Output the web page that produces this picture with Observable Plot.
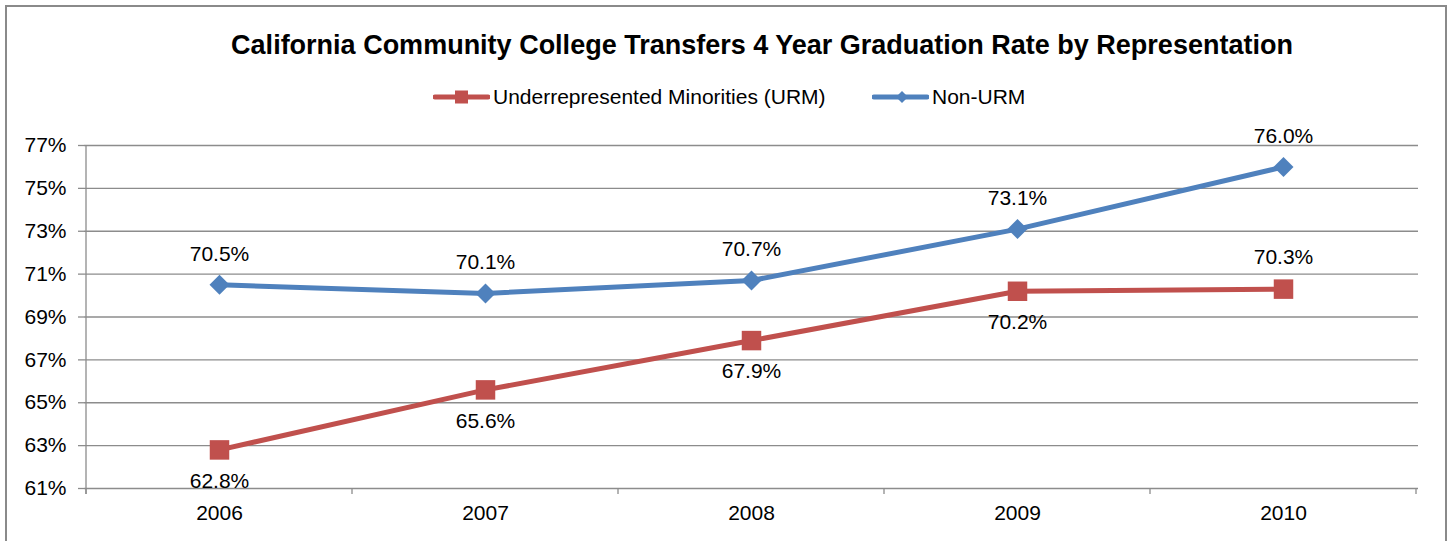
<!DOCTYPE html>
<html>
<head>
<meta charset="utf-8">
<script src="https://cdn.jsdelivr.net/npm/d3@7"></script>
<script src="https://cdn.jsdelivr.net/npm/@observablehq/plot@0.6"></script>
<style>
  html, body { margin: 0; padding: 0; background: #fff; }
  body { width: 1452px; height: 541px; overflow: hidden; position: relative; font-family: "Liberation Sans", Arial, sans-serif; }
  #frame { position: absolute; left: 5px; top: 5px; width: 1438px; height: 600px; border: 2px solid #8a8a8a; }
  #title { position: absolute; left: 0; top: 32px; width: 1524px; text-align: center; font-weight: bold; font-size: 27px; line-height: 27px; color: #000; white-space: nowrap; }
  .leg { position: absolute; top: 85px; height: 24px; display: flex; align-items: center; font-size: 21px; color: #000; white-space: nowrap; }
  .leg svg { display: block; margin-right: 3px; }
  #chart { position: absolute; left: 0; top: 120px; }
</style>
</head>
<body>
<div id="frame"></div>
<div id="title">California Community College Transfers 4 Year Graduation Rate by Representation</div>
<div class="leg" style="left:433px">
  <svg width="57" height="24"><line x1="2" x2="55" y1="12" y2="12" stroke="#C0504D" stroke-width="5" stroke-linecap="round"/><rect x="22" y="5.5" width="13" height="13" fill="#C0504D"/></svg>
  <span>Underrepresented Minorities (URM)</span>
</div>
<div class="leg" style="left:872px">
  <svg width="57" height="24"><line x1="2" x2="55" y1="12" y2="12" stroke="#4F81BD" stroke-width="5" stroke-linecap="round"/><path d="M30,6 L36,12 L30,18 L24,12 Z" fill="#4F81BD"/></svg>
  <span>Non-URM</span>
</div>
<div id="chart"></div>
<script>
const years = ["2006", "2007", "2008", "2009", "2010"];
const urm = [62.8, 65.6, 67.9, 70.2, 70.3];
const nonUrm = [70.5, 70.1, 70.7, 73.1, 76.0];
const yTicks = [61, 63, 65, 67, 69, 71, 73, 75, 77];

const red = "#C0504D";
const blue = "#4F81BD";
const grid = "#8c8c8c";

const urmData = years.map((year, i) => ({year, value: urm[i], above: i === years.length - 1}));
const nonData = years.map((year, i) => ({year, value: nonUrm[i]}));

// axis line (left) and category boundary ticks, drawn from the plot's own scales
function axisFrame(index, scales, values, dims) {
  const x = scales.x, y = scales.y;
  const step = x.step ? x.step() : (dims.width - dims.marginLeft - dims.marginRight) / years.length;
  const g = d3.create("svg:g").attr("stroke", grid).attr("stroke-width", 1.3);
  const y0 = y(yTicks[0]), y1 = y(yTicks[yTicks.length - 1]);
  const xl = x(years[0]) - step / 2;
  g.append("line").attr("x1", xl).attr("x2", xl).attr("y1", y1).attr("y2", y0 + 6);
  const bounds = [x(years[0]) - step / 2, ...years.map(d => x(d) + step / 2)];
  for (const b of bounds) {
    g.append("line").attr("x1", b).attr("x2", b).attr("y1", y0).attr("y2", y0 + 6);
  }
  return g.node();
}

const chart = Plot.plot({
  width: 1452,
  height: 421,
  marginLeft: 84,
  marginRight: 34,
  marginTop: 25,
  marginBottom: 53,
  style: {fontFamily: "'Liberation Sans', Arial, sans-serif", fontSize: "21px", color: "#000", background: "transparent"},
  x: {type: "point", domain: years, padding: 0.5, label: null},
  y: {domain: [61, 77], label: null},
  marks: [
    Plot.ruleY(yTicks, {stroke: grid, strokeWidth: 1.3}),
    axisFrame,
    Plot.axisY({ticks: yTicks, tickFormat: d => d + "%", tickSize: 6, tickPadding: 12, stroke: grid, strokeWidth: 1.3, fontSize: 21, fill: "#000", label: null}),
    Plot.axisX({tickSize: 0, tickPadding: 17, fontSize: 21, fill: "#000", label: null}),
    Plot.line(urmData, {x: "year", y: "value", stroke: red, strokeWidth: 5}),
    Plot.line(nonData, {x: "year", y: "value", stroke: blue, strokeWidth: 5}),
    Plot.dot(urmData, {x: "year", y: "value", symbol: "square", r: 11, fill: red, stroke: null}),
    Plot.dot(nonData, {x: "year", y: "value", symbol: "diamond2", r: 9, fill: blue, stroke: null}),
    Plot.text(nonData, {x: "year", y: "value", text: d => d.value.toFixed(1) + "%", dy: -31, fontSize: 21, fill: "#000"}),
    Plot.text(urmData.filter(d => !d.above), {x: "year", y: "value", text: d => d.value.toFixed(1) + "%", dy: 31, fontSize: 21, fill: "#000"}),
    Plot.text(urmData.filter(d => d.above), {x: "year", y: "value", text: d => d.value.toFixed(1) + "%", dy: -32, fontSize: 21, fill: "#000"})
  ]
});
document.getElementById("chart").appendChild(chart);
</script>
</body>
</html>
